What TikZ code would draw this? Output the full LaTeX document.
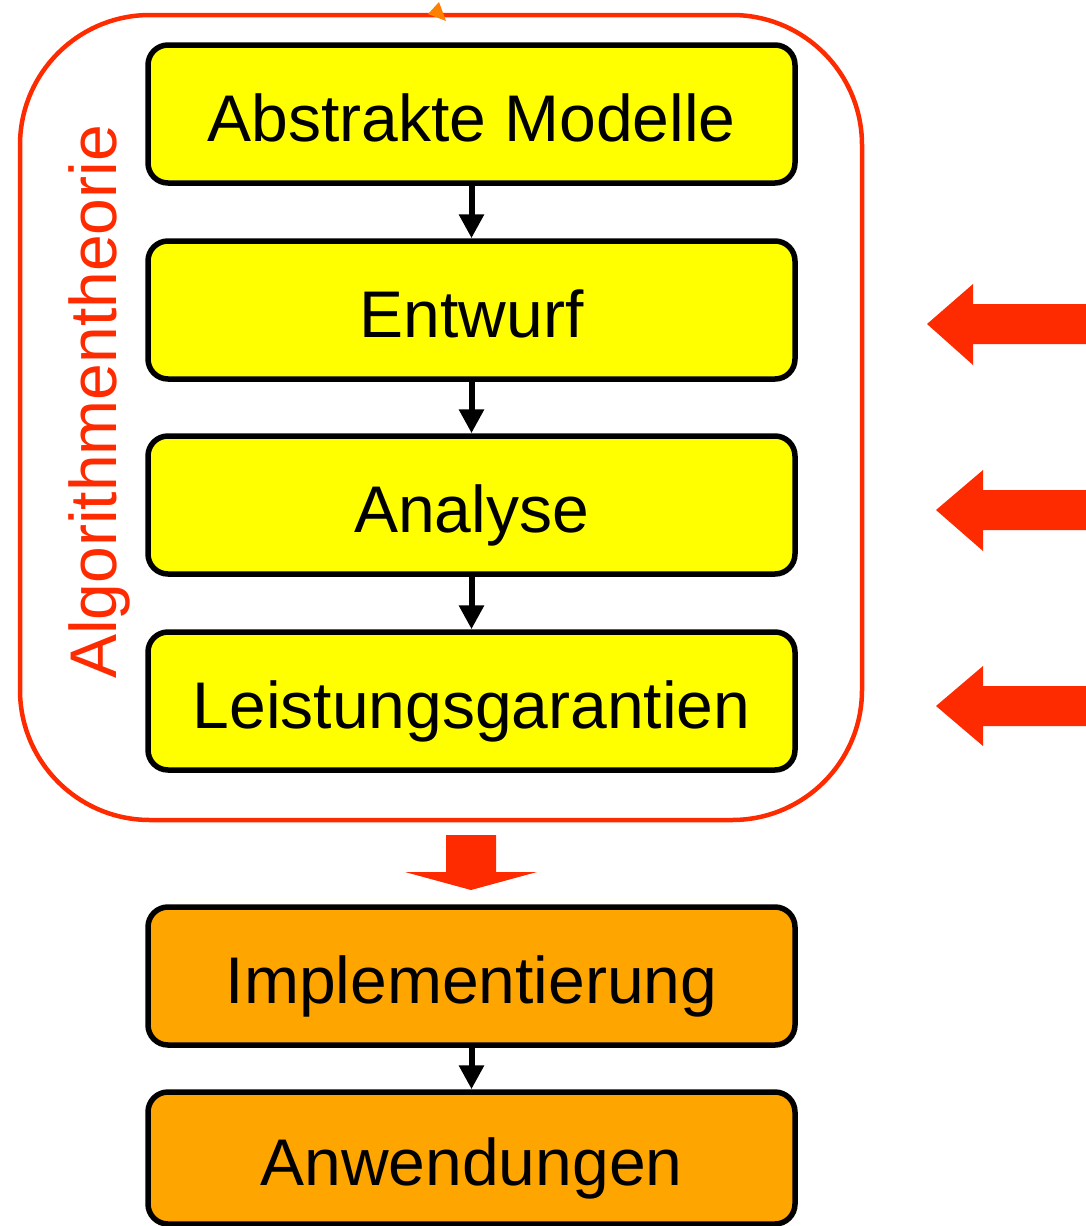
\documentclass[tikz,border=0pt]{standalone}
\usepackage{fontspec}
\setmainfont{Liberation Sans}
\usepackage{xcolor}
\usepackage{tikz}
\usetikzlibrary{arrows.meta}
\definecolor{frame}{HTML}{FF2B00}
\definecolor{yel}{HTML}{FFFF00}
\definecolor{orng}{HTML}{FFA500}
\definecolor{tick}{HTML}{FF8000}
\tikzset{
  stage/.style={draw=black, fill=yel, line width=5.5pt, rounded corners=20pt,
    minimum width=647pt, minimum height=138pt, inner sep=0pt,
    font=\fontsize{66}{79}\selectfont, text height=54pt, text depth=0pt},
  impl/.style={stage, fill=orng},
  flow/.style={draw=black, line width=6pt, -{Triangle[width=24pt,length=24pt]}},
  theory/.style={draw=frame, line width=4.5pt, rounded corners=130pt},
  blk/.style={fill=frame},
  labt/.style={text=frame, font=\fontsize{66}{79}\selectfont, rotate=90, inner sep=0pt}
}
\begin{document}
\begin{tikzpicture}[x=1pt, y=-1pt]
  \useasboundingbox (0,0) rectangle (1086,1226);

  \draw[theory] (20,15) rectangle (862,820);
  \fill[tick] (428,14) -- (439,2) -- (446,21) -- cycle;
  \node[labt] (theo) at (99,402) {Algorithmentheorie};

  \node[stage] (abs) at (471.5,114) {Abstrakte Modelle};
  \node[stage] (ent) at (471.5,310) {Entwurf};
  \node[stage] (ana) at (471.5,505) {Analyse};
  \node[stage] (lei) at (471.5,701) {Leistungsgarantien};
  \node[impl]  (imp) at (471.5,976) {Implementierung};
  \node[impl, minimum height=132pt] (anw) at (471.5,1158) {Anwendungen};

  \draw[flow] (abs.south) -- (ent.north);
  \draw[flow] (ent.south) -- (ana.north);
  \draw[flow] (ana.south) -- (lei.north);
  \draw[flow] (imp.south) -- (anw.north);

  % block arrows
  \fill[blk] (446,835) -- (496,835) -- (496,872) -- (537,872) -- (471,890)
    -- (405,872) -- (446,872) -- cycle;
  \fill[blk] (927,324) -- (973,284) -- (973,304) -- (1086,304) -- (1086,344)
    -- (973,344) -- (973,365) -- cycle;
  \fill[blk] (936,510) -- (983,470) -- (983,490) -- (1086,490) -- (1086,530)
    -- (983,530) -- (983,551) -- cycle;
  \fill[blk] (936,706) -- (983,666) -- (983,686) -- (1086,686) -- (1086,726)
    -- (983,726) -- (983,746) -- cycle;
\end{tikzpicture}
\end{document}
